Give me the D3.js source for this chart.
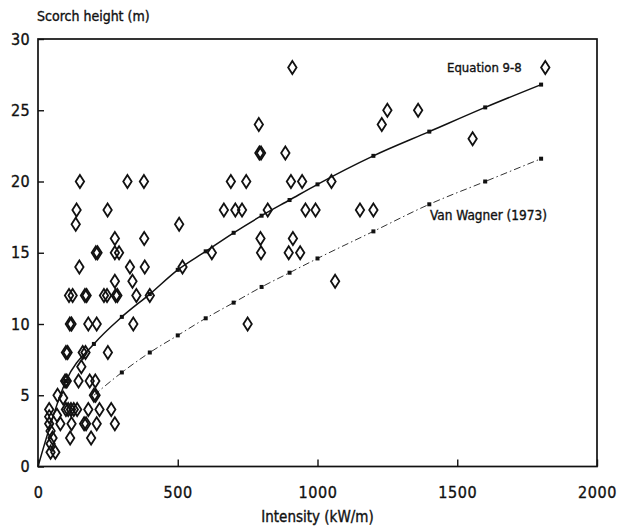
<!DOCTYPE html>
<html>
<head>
<meta charset="utf-8">
<script src="https://cdn.jsdelivr.net/npm/d3@7"></script>
<style>
  html, body { margin: 0; padding: 0; background: #fff; }
  svg text { font-family: "DejaVu Sans Condensed", "DejaVu Sans", sans-serif; fill: #111; stroke: #111; stroke-width: 0.35px; }
</style>
</head>
<body>
<svg id="chart" width="618" height="527"></svg>
<script>
// ---- Data ----
const xTicks = [0, 500, 1000, 1500, 2000];
const yTicks = [0, 5, 10, 15, 20, 25, 30];

// Observed scorch heights: [intensity kW/m, height m]
const observed = [
  // ~1-3 m
  [45, 1], [62, 1], [45, 1.6], [52, 2], [115, 2], [190, 2], [45, 2.5],
  [40, 3], [80, 3], [120, 3], [165, 3], [172, 3], [210, 3], [275, 3],
  [40, 3.5], [68, 3.6],
  // ~4-5 m
  [40, 4], [100, 4], [108, 4], [118, 4], [128, 4], [140, 4], [180, 4], [220, 4], [262, 4],
  [70, 5], [90, 4.8], [200, 5], [206, 5],
  // ~6-8 m
  [97, 6], [103, 6], [145, 6], [185, 6], [205, 6], [155, 7],
  [100, 8], [106, 8], [160, 8], [170, 8], [250, 8],
  // ~10-14 m
  [114, 10], [120, 10], [180, 10], [210, 10], [341, 10], [750, 10],
  [111, 12], [124, 12], [168, 12], [174, 12], [236, 12], [247, 12], [278, 12], [284, 12], [352, 12], [400, 12],
  [275, 13], [338, 13], [1063, 13],
  [148, 14], [329, 14], [382, 14], [517, 14],
  // ~15-18 m
  [207, 15], [213, 15], [275, 15], [290, 15], [622, 15], [798, 15], [897, 15], [938, 15],
  [275, 16], [380, 16], [796, 16], [912, 16],
  [135, 17], [505, 17],
  [138, 18], [249, 18], [665, 18], [706, 18], [730, 18], [822, 18], [957, 18], [993, 18], [1152, 18], [1200, 18],
  // ~20-28 m
  [150, 20], [320, 20], [379, 20], [690, 20], [745, 20], [905, 20], [945, 20], [1050, 20],
  [792, 22], [798, 22], [885, 22],
  [1555, 23], [790, 24], [1230, 24], [1250, 25], [1360, 25],
  [910, 28], [1815, 28]
];

// Equation 9-8 curve (values read at marker positions)
const eqX = [0, 100, 200, 300, 400, 500, 600, 700, 800, 900, 1000, 1200, 1400, 1600, 1800];
const eqY = [0, 6.0, 8.6, 10.5, 12.1, 13.8, 15.1, 16.4, 17.6, 18.7, 19.8, 21.8, 23.5, 25.2, 26.8];

// Van Wagner (1973) curve (values read at marker positions)
const vwX = [200, 300, 400, 500, 600, 700, 800, 900, 1000, 1200, 1400, 1600, 1800];
const vwY = [5.0, 6.6, 8.0, 9.2, 10.4, 11.5, 12.6, 13.6, 14.6, 16.5, 18.4, 20.0, 21.6];

const xLabel = "Intensity (kW/m)";
const yLabel = "Scorch height (m)";
const eqLabel = "Equation 9-8";
const vwLabel = "Van Wagner (1973)";

// ---- Drawing ----
const svg = d3.select("#chart");
const x = d3.scaleLinear().domain([0, 2000]).range([38, 597]);
const y = d3.scaleLinear().domain([0, 30]).range([466.5, 39]);

const ink = "#111";

// Frame
svg.append("rect")
  .attr("x", x(0)).attr("y", y(30))
  .attr("width", x(2000) - x(0)).attr("height", y(0) - y(30))
  .attr("fill", "none").attr("stroke", ink).attr("stroke-width", 1.7);

// Axes (inward ticks)
const xAxis = d3.axisBottom(x).tickValues(xTicks).tickSize(-7).tickPadding(20).tickFormat(d3.format("d"));
const gx = svg.append("g").attr("transform", `translate(0,${y(0)})`).call(xAxis);
gx.select(".domain").remove();
gx.selectAll(".tick line").attr("stroke", ink).attr("stroke-width", 1.4);
gx.selectAll(".tick text").attr("font-size", 16).attr("fill", ink).attr("letter-spacing", 0.6);

const yAxis = d3.axisLeft(y).tickValues(yTicks).tickSize(-6).tickPadding(8).tickFormat(d3.format("d"));
const gy = svg.append("g").attr("transform", `translate(${x(0)},0)`).call(yAxis);
gy.select(".domain").remove();
gy.selectAll(".tick line").attr("stroke", ink).attr("stroke-width", 1.4);
gy.selectAll(".tick text").attr("font-size", 16).attr("fill", ink).attr("letter-spacing", 0.4);

// Axis titles
svg.append("text").attr("x", 37).attr("y", 21)
  .attr("font-size", 14).text(yLabel);
svg.append("text").attr("x", x(1000)).attr("y", 522)
  .attr("text-anchor", "middle").attr("font-size", 15).text(xLabel);

// Van Wagner curve
const vwData = vwX.map((d, i) => [d, vwY[i]]);
const line = d3.line().x(d => x(d[0])).y(d => y(d[1])).curve(d3.curveMonotoneX);
svg.append("path").datum(vwData).attr("d", line)
  .attr("fill", "none").attr("stroke", "#333").attr("stroke-width", 1)
  .attr("stroke-dasharray", "7,3,1.5,3");
svg.append("g").selectAll("rect").data(vwData.slice(1)).join("rect")
  .attr("x", d => x(d[0]) - 2).attr("y", d => y(d[1]) - 2)
  .attr("width", 4).attr("height", 4).attr("fill", ink);

// Equation 9-8 curve
const eqData = eqX.map((d, i) => [d, eqY[i]]);
svg.append("path").datum(eqData).attr("d", line)
  .attr("fill", "none").attr("stroke", ink).attr("stroke-width", 1.5);
svg.append("g").selectAll("rect").data(eqData.slice(1)).join("rect")
  .attr("x", d => x(d[0]) - 2).attr("y", d => y(d[1]) - 2)
  .attr("width", 4).attr("height", 4).attr("fill", ink);

// Observations (open diamonds)
const diamond = "M0,-6.5L4.2,0L0,6.5L-4.2,0Z";
svg.append("g").selectAll("path").data(observed).join("path")
  .attr("transform", d => `translate(${x(d[0])},${y(d[1])})`)
  .attr("d", diamond)
  .attr("fill", "none").attr("stroke", ink).attr("stroke-width", 1.8);

// Curve labels
svg.append("text").attr("x", 447).attr("y", 72).attr("font-size", 13).text(eqLabel);
svg.append("text").attr("x", 430).attr("y", 220).attr("font-size", 13.5).text(vwLabel);
</script>
</body>
</html>
